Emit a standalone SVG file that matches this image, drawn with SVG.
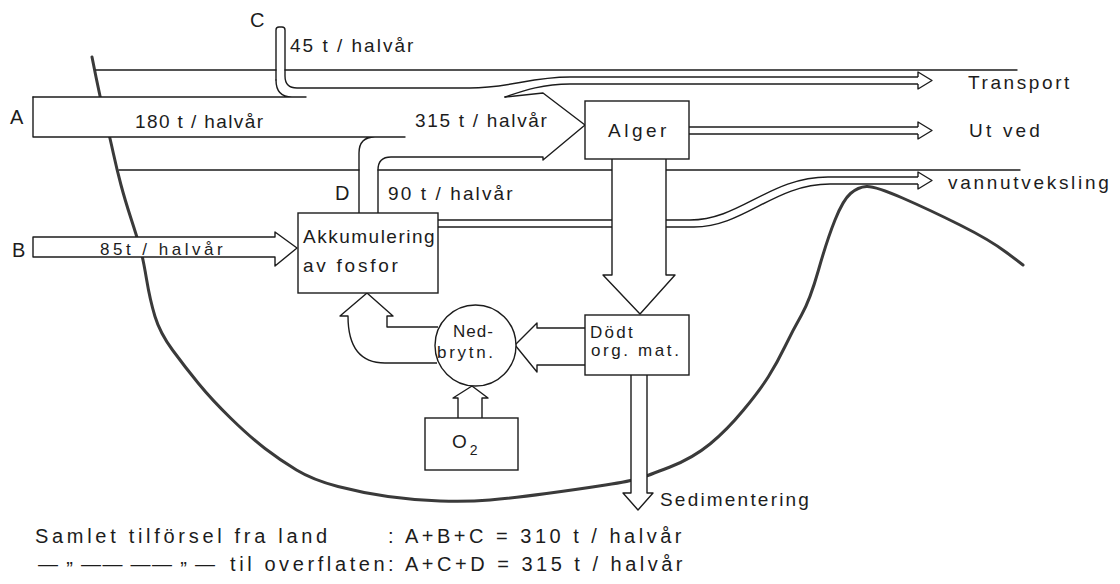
<svg xmlns="http://www.w3.org/2000/svg" width="1120" height="584" viewBox="0 0 1120 584">
<style>
.ln{fill:none;stroke:#1c1c1c;stroke-width:1.4;stroke-linejoin:round;stroke-linecap:round}
.wf{fill:#fff;stroke:#1c1c1c;stroke-width:1.4;stroke-linejoin:round}
.lake{fill:none;stroke:#3a3a3a;stroke-width:3;stroke-linejoin:round;stroke-linecap:round}
.box{fill:#fff;stroke:#1c1c1c;stroke-width:1.4}
.t{font-family:"Liberation Sans",Arial,sans-serif;font-size:19px;fill:#1c1c1c}
.s{font-size:17px}
.b{font-size:20px}
</style>
<defs>
<path id="hd" class="wf" d="M0 -3.5V-8.5L14 0L0 8.5V3.5"/>
</defs>
<rect width="1120" height="584" fill="#fff"/>
<path id="lake" class="lake" d="M92 57L96 77Q100 97 105 117.5Q110 138 113.5 154Q117 170 121 185Q125 200 131 218.5Q137 237 140 247.5Q143 258 146.5 279Q150 300 155 316.5Q160 333 172.5 350Q185 367 198.5 383.5Q212 400 231 418.5Q250 437 265 448.5Q280 460 296.5 470Q313 480 338 486.5Q363 493 388 496.5Q413 500 440 501Q467 502 490 500Q513 498 546.5 493.5Q580 489 605.5 485Q631 481 639 478.5Q647 476 670 467Q693 458 710 444Q727 430 743.5 410Q760 390 768.5 376.5Q777 363 785 346.5Q793 330 801.5 315Q810 300 818.5 270Q827 240 835 220Q843 200 850.5 193.5Q858 187 866.5 186.5Q875 186 902.5 198Q930 210 960 225Q990 240 1006.5 252.5L1023 265"/>
<rect x="33" y="97" width="273" height="40" fill="#fff"/>
<g id="connectors">
<path class="ln" d="M96 70H276M285 70H1017"/>
<path class="ln" d="M119 170H359M378 170H1020"/>
<path class="ln" d="M276 80V30Q276 27 279 27H282Q285 27 285 30V76Q285 88 297 88H470C510 88 530 77 570 77H918"/>
<path class="ln" d="M33 97H292Q276 97 276 80M292 97H306"/>
<path class="ln" d="M33 97V137H405M359 213V153Q359 137 375 137"/>
<path class="ln" d="M505 97C520 92 540 84 570 84H918"/>
<path class="ln" d="M505 97L543 93L585 125L543 160V157H391Q378 157 378 170V213"/>
<path class="ln" d="M689 127H918M689 134H918"/>
<path class="ln" d="M438 220H690C740 220 770 177 828 177H918M438 227H694C744 227 774 184 830 184H918"/>
<use href="#hd" x="918" y="80.5"/>
<use href="#hd" x="918" y="130.5"/>
<use href="#hd" x="918" y="180.5"/>
<path class="wf" d="M33 237H275V232L297 248L275 266V257H33Z"/>
<path class="wf" d="M612 159V275H603L640 314L675 275H666V159"/>
<path class="wf" d="M437 363H385C358 363 348 345 348 316H340L367 293L393 316H387V327H438"/>
<path class="wf" d="M585 328H537V323L515 345L537 372V365H585"/>
<path class="wf" d="M458 418V398H453L472 386L488 398H482V418"/>
<path class="wf" d="M631 375V493H623L638 510L653 493H647V375"/>
</g>
<g id="alger">
<rect class="box" x="585" y="101" width="104" height="58"/>
<text class="t" x="608" y="137" letter-spacing="3.5">Alger</text>
</g>
<g id="akkumulering">
<rect class="box" x="298" y="213" width="140" height="80"/>
<text class="t" x="303" y="243" letter-spacing="1.5">Akkumulering</text>
<text class="t" x="303" y="272" letter-spacing="2.75">av fosfor</text>
</g>
<g id="nedbrytn">
<circle class="box" cx="475.5" cy="345.5" r="40.5"/>
<text class="t s" x="453" y="337" letter-spacing="1">Ned-</text>
<text class="t s" x="437" y="358" letter-spacing="2.7">brytn.</text>
</g>
<g id="dodt">
<rect class="box" x="585" y="315" width="104" height="60"/>
<text class="t s" x="590" y="338" letter-spacing="2.3">Dödt</text>
<text class="t s" x="591" y="356" letter-spacing="2.6">org. mat.</text>
</g>
<g id="o2">
<rect class="box" x="425" y="418" width="93" height="52"/>
<text class="t" x="452" y="448">O<tspan font-size="14" dx="3" dy="7">2</tspan></text>
</g>
<g id="labels">
<text class="t b" x="250" y="27">C</text>
<text class="t" x="290" y="52" letter-spacing="2">45 t / halvår</text>
<text class="t b" x="10" y="124">A</text>
<text class="t" x="135" y="128" letter-spacing="1.4">180 t / halvår</text>
<text class="t" x="415" y="127" letter-spacing="1.7">315 t / halvår</text>
<text class="t" x="968" y="89" letter-spacing="2.6">Transport</text>
<text class="t" x="969" y="137" letter-spacing="3.2">Ut ved</text>
<text class="t" x="948" y="189" letter-spacing="2.7">vannutveksling</text>
<text class="t b" x="335" y="200">D</text>
<text class="t" x="388" y="200" letter-spacing="2.1">90 t / halvår</text>
<text class="t b" x="12" y="257">B</text>
<text class="t s" x="100" y="255" letter-spacing="3.5">85t / halvår</text>
<text class="t" x="660" y="506" letter-spacing="2.2">Sedimentering</text>
<text class="t b" x="35" y="543" letter-spacing="3.7">Samlet tilförsel fra land</text>
<text class="t b" x="388" y="543" letter-spacing="3.5">: A+B+C = 310 t / halvår</text>
<text class="t b" x="38" y="571" textLength="177" lengthAdjust="spacing">— <tspan dy="5">”</tspan><tspan dy="-5"> —— —— </tspan><tspan dy="5">”</tspan><tspan dy="-5"> —</tspan></text>
<text class="t b" x="230" y="571" letter-spacing="3.6">til overflaten</text>
<text class="t b" x="388" y="571" letter-spacing="3.5">: A+C+D = 315 t / halvår</text>
</g>
</svg>
